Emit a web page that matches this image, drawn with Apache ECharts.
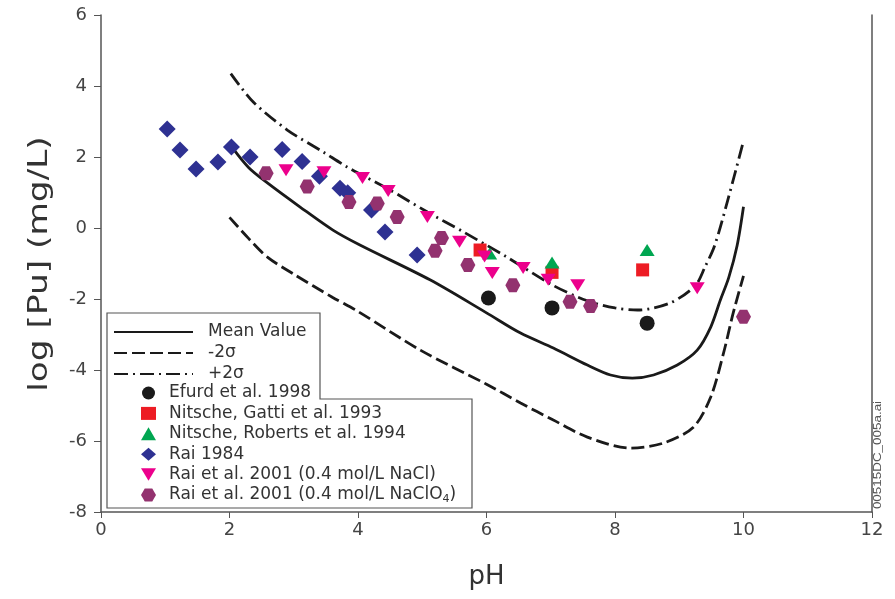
<!DOCTYPE html>
<html>
<head>
<meta charset="utf-8">
<script src="https://cdn.jsdelivr.net/npm/echarts@6/dist/echarts.min.js"></script>
<style>
  html, body { margin: 0; padding: 0; background: #fff; }
  #chart { width: 895px; height: 599px; }
</style>
</head>
<body>
<div id="chart"></div>
<script>
// model curves [pH, log Pu]
const meanCurve = [[2.05, 2.25], [2.3, 1.7], [2.59, 1.27], [3.1, 0.59], [3.61, -0.06], [4.03, -0.48], [5.12, -1.46], [6.0, -2.39], [6.53, -2.96], [7.04, -3.38], [7.57, -3.86], [7.93, -4.14], [8.27, -4.23], [8.6, -4.14], [8.97, -3.86], [9.28, -3.44], [9.49, -2.79], [9.64, -2.03], [9.77, -1.4], [9.9, -0.5], [10.0, 0.6]]
const minusCurve = [[2.0, 0.3], [2.3, -0.3], [2.59, -0.82], [3.0, -1.3], [3.6, -1.95], [4.0, -2.35], [4.97, -3.44], [6.0, -4.4], [6.53, -4.93], [7.04, -5.41], [7.57, -5.89], [8.24, -6.2], [8.75, -6.06], [9.22, -5.61], [9.49, -4.76], [9.69, -3.52], [9.84, -2.39], [10.0, -1.35]]
const plusCurve = [[2.02, 4.35], [2.37, 3.55], [2.9, 2.76], [3.46, 2.14], [3.83, 1.72], [4.47, 1.1], [5.08, 0.45], [5.64, -0.11], [6.3, -0.8], [7.04, -1.62], [7.57, -2.05], [8.0, -2.25], [8.35, -2.31], [8.86, -2.11], [9.25, -1.62], [9.4, -1.1], [9.55, -0.5], [9.75, 0.75], [10.0, 2.45]]

// measured data
const efurd = [[6.03, -1.97], [7.02, -2.25], [8.5, -2.68]]
const nitscheGatti = [[5.9, -0.62], [7.02, -1.25], [8.43, -1.18]]
const nitscheRoberts = [[6.05, -0.72], [7.02, -0.97], [8.5, -0.62]]
const rai1984 = [[1.03, 2.79], [1.23, 2.2], [1.48, 1.66], [1.82, 1.86], [2.03, 2.28], [2.32, 2.0], [2.82, 2.21], [3.13, 1.87], [3.4, 1.46], [3.72, 1.12], [3.84, 0.99], [4.21, 0.51], [4.42, -0.11], [4.92, -0.76]]
const raiNaCl = [[2.88, 1.63], [3.47, 1.57], [4.07, 1.41], [4.47, 1.04], [5.08, 0.31], [5.58, -0.39], [5.97, -0.8], [6.09, -1.27], [6.57, -1.13], [6.96, -1.46], [7.42, -1.61], [9.28, -1.7]]
const raiNaClO4 = [[2.57, 1.54], [3.21, 1.17], [3.86, 0.73], [4.3, 0.69], [4.61, 0.31], [5.3, -0.28], [5.2, -0.64], [5.71, -1.04], [6.41, -1.61], [7.3, -2.08], [7.62, -2.2], [10.0, -2.5]]

const lineNames = ['Mean Value', '-2σ', '+2σ']
const pointNames = ['Efurd et al. 1998', 'Nitsche, Gatti et al. 1993', 'Nitsche, Roberts et al. 1994', 'Rai 1984', 'Rai et al. 2001 (0.4 mol/L NaCl)', 'Rai et al. 2001 (0.4 mol/L NaClO4)']

const downTri = 'path://M0,0L12,0L6,10Z'
const hexagon = 'path://M5,0L15,0L20,8.66L15,17.32L5,17.32L0,8.66Z'
const FONT = 'DejaVu Sans, Liberation Sans, sans-serif'

const chart = echarts.init(document.getElementById('chart'))

function curve(name, data, type) {
    return {
        name: name,
        type: 'line',
        data: data,
        smooth: 0.3,
        symbol: 'none',
        color: '#1a1a1a',
        lineStyle: { color: '#1a1a1a', width: 2.8, type: type },
        z: 2
    }
}

function points(name, data, symbol, size, color) {
    return {
        name: name,
        type: 'scatter',
        data: data,
        symbol: symbol,
        symbolSize: size,
        itemStyle: { color: color, opacity: 1 },
        z: 3
    }
}

const option = {
    animation: false,
    backgroundColor: '#fff',
    grid: { left: 101, right: 23, top: 15, bottom: 87 },
    xAxis: {
        type: 'value', min: 0, max: 12, interval: 2,
        name: 'pH', nameLocation: 'middle', nameGap: 52,
        nameTextStyle: { fontSize: 26, fontFamily: FONT, color: '#333' },
        axisLine: { onZero: false, lineStyle: { color: '#555', width: 1.5 } },
        axisTick: { length: 6, lineStyle: { color: '#555' } },
        axisLabel: { fontSize: 18, margin: 9, fontFamily: FONT, color: '#444' },
        splitLine: { show: false }
    },
    yAxis: [{
        type: 'value', min: -8, max: 6, interval: 2,
        axisLine: { show: true, onZero: false, lineStyle: { color: '#555', width: 1.5 } },
        axisTick: { show: true, length: 7, lineStyle: { color: '#555' } },
        axisLabel: { fontSize: 18, margin: 14, fontFamily: FONT, color: '#444' },
        splitLine: { show: false }
    }, {
        type: 'value', min: -8, max: 6, interval: 2, position: 'right',
        axisLine: { show: true, onZero: false, lineStyle: { color: '#555', width: 1.5 } },
        axisTick: { show: false },
        axisLabel: { show: false },
        splitLine: { show: false }
    }],
    legend: [{
        data: lineNames,
        orient: 'vertical',
        left: 108, top: 317,
        itemWidth: 79, itemHeight: 14, itemGap: 1,
        itemStyle: { opacity: 0, borderWidth: 0 },
        textStyle: { fontSize: 17, lineHeight: 20, color: '#333', fontFamily: FONT, padding: [0, 0, 0, 10] }
    }, {
        data: pointNames,
        orient: 'vertical',
        left: 136, top: 378,
        itemWidth: 15, itemHeight: 13, itemGap: 0.4,
        formatter: function (name) {
            return name.replace('NaClO4)', 'NaClO{sub|4})')
        },
        textStyle: {
            fontSize: 17, lineHeight: 20, color: '#333', fontFamily: FONT, padding: [0, 0, 0, 8],
            rich: { sub: { fontSize: 11, color: '#333', fontFamily: FONT, verticalAlign: 'bottom', padding: [7, 0, 0, 0] } }
        }
    }],
    graphic: [{
        type: 'polygon',
        z: 3,
        shape: { points: [[107, 313], [107, 508], [472, 508], [472, 399], [320, 399], [320, 313]] },
        style: { fill: '#fff', stroke: '#555', lineWidth: 1.2 }
    }, {
        // y axis title, stretched along its baseline like the source figure
        type: 'text',
        x: 40, y: 264,
        rotation: Math.PI / 2,
        scaleX: 1.32,
        style: { text: 'log [Pu] (mg/L)', fontSize: 26, fill: '#333', align: 'center', verticalAlign: 'middle', fontFamily: FONT }
    }, {
        type: 'text',
        x: 878, y: 455,
        rotation: Math.PI / 2,
        scaleX: 1.22,
        style: { text: '00515DC_005a.ai', fontSize: 11, fill: '#555', align: 'center', verticalAlign: 'middle', fontFamily: 'Liberation Sans Narrow, Liberation Sans, sans-serif' }
    }],
    series: [
        curve('Mean Value', meanCurve, 'solid'),
        curve('-2σ', minusCurve, [13, 5]),
        curve('+2σ', plusCurve, [14, 5, 2, 5]),
        points(pointNames[0], efurd, 'circle', 15, '#1a1a1a'),
        points(pointNames[1], nitscheGatti, 'rect', 13, '#ed1c24'),
        points(pointNames[2], nitscheRoberts, 'triangle', [15, 12], '#00a651'),
        points(pointNames[3], rai1984, 'diamond', 17, '#2e3192'),
        points(pointNames[4], raiNaCl, downTri, [15, 12], '#ec008c'),
        points(pointNames[5], raiNaClO4, hexagon, [15, 14], '#93326f')
    ]
}

chart.setOption(option)
</script>
</body>
</html>
